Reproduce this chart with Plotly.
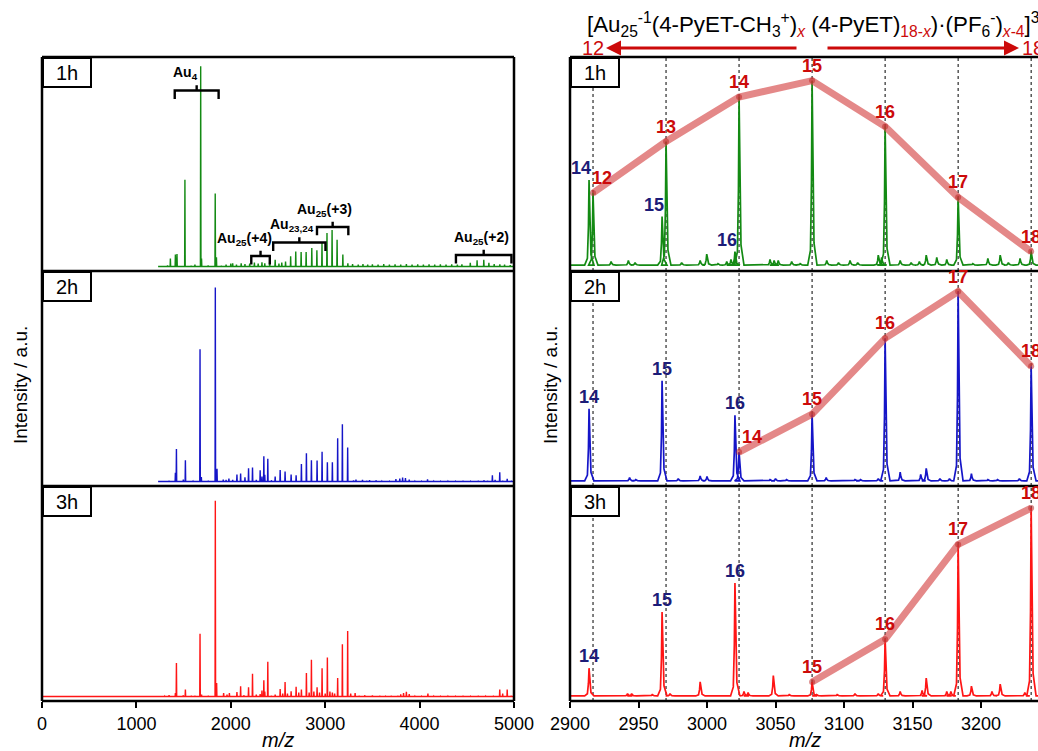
import plotly.graph_objects as go

W, H = 1038, 751

# ---------------- data ----------------
panels = ["1h", "2h", "3h"]

# Overview spectra (m/z, relative intensity in % of panel height)
ov1_mz = [1270, 1330, 1360, 1413, 1430, 1514, 1580, 1620, 1681, 1690, 1760, 1835, 1848, 1900, 1950, 2000, 2020,
          2060, 2110, 2150, 2200, 2250, 2290, 2330, 2360, 2412, 2470, 2510, 2540, 2580, 2634, 2688, 2745, 2798,
          2858, 2912, 2966, 3019, 3073, 3126, 3187, 3240, 3290, 3350, 3400, 3450, 3500, 3560, 3620, 3680, 3740,
          3800, 3860, 3920, 3980, 4040, 4100, 4160, 4220, 4280, 4340, 4400, 4448, 4537, 4609, 4680, 4734, 4790,
          4850, 4900, 4960]
ov1_int = [0.8, 1.2, 4.4, 6.3, 6.6, 41.8, 1.0, 1.5, 95.6, 4.4, 1.2, 35.3, 5.0, 1.0, 1.5, 2.0, 2.2,
           1.5, 2.2, 1.8, 2.0, 2.5, 2.0, 2.6, 2.2, 3.0, 3.8, 2.0, 2.5, 3.0, 5.5, 7.8, 7.5, 7.5,
           9.4, 8.3, 11.8, 16.5, 18.0, 13.3, 6.3, 2.2, 1.8, 1.5, 1.8, 1.5, 1.6, 1.5, 1.8, 1.5, 1.7,
           1.5, 1.8, 1.5, 1.6, 1.5, 1.7, 1.5, 1.6, 1.5, 1.7, 1.5, 1.6, 2.4, 3.6, 3.8, 2.4, 1.8,
           1.6, 1.5, 1.3]

ov2_mz = [1265, 1346, 1413, 1424, 1497, 1519, 1600, 1674, 1688, 1760, 1836, 1854, 1920, 1950, 1980, 2020, 2065,
          2104, 2150, 2188, 2230, 2270, 2311, 2330, 2350, 2360, 2392, 2430, 2470, 2523, 2575, 2639, 2692, 2748,
          2801, 2854, 2914, 2967, 3023, 3076, 3132, 3182, 3238, 3300, 3326, 3395, 3440, 3470, 3540, 3600, 3680,
          3749, 3790, 3820, 3850, 3890, 3950, 4020, 4084, 4150, 4220, 4300, 4380, 4460, 4540, 4620, 4683, 4720,
          4771, 4800, 4849, 4880, 4928, 4970]
ov2_int = [0.6, 1.0, 4.7, 16.0, 1.5, 10.6, 0.8, 63.0, 2.7, 0.8, 92.2, 6.6, 1.5, 1.4, 2.0, 1.4, 3.9,
           4.4, 2.6, 6.9, 7.2, 1.4, 5.9, 3.0, 12.5, 3.8, 11.4, 1.2, 3.0, 6.1, 5.3, 3.9, 3.6, 8.9,
           14.0, 10.6, 10.5, 14.7, 9.7, 9.7, 21.0, 27.7, 16.7, 1.2, 1.5, 1.4, 1.0, 1.3, 1.2, 0.8, 0.8,
           1.8, 2.0, 2.5, 2.3, 1.5, 0.8, 0.8, 1.6, 0.8, 0.8, 0.8, 0.8, 0.8, 0.8, 0.8, 1.2, 1.0,
           3.6, 1.4, 5.0, 1.0, 1.9, 0.8]

ov3_mz = [0, 1300, 1346, 1413, 1424, 1497, 1519, 1580, 1620, 1674, 1690, 1760, 1836, 1850, 1924, 1960, 1985,
          2065, 2104, 2140, 2188, 2230, 2270, 2311, 2330, 2350, 2360, 2392, 2430, 2470, 2523, 2550, 2575, 2600,
          2639, 2692, 2720, 2748, 2801, 2830, 2854, 2880, 2914, 2940, 2967, 3000, 3023, 3050, 3076, 3100, 3132,
          3182, 3238, 3270, 3317, 3360, 3420, 3500, 3580, 3640, 3700, 3770, 3800, 3830, 3860, 3890, 3950, 4020,
          4088, 4150, 4220, 4300, 4380, 4460, 4540, 4620, 4700, 4780, 4849, 4880, 4928, 4970]
ov3_int = [0.3, 0.8, 1.3, 2.3, 16.4, 1.2, 3.9, 0.8, 1.0, 30.2, 1.5, 0.8, 93.0, 7.0, 2.3, 1.5, 2.3,
           2.7, 5.5, 1.2, 5.0, 11.4, 1.5, 1.8, 3.5, 8.3, 3.0, 17.0, 1.0, 1.5, 4.2, 2.0, 7.5, 2.0,
           3.1, 5.2, 2.5, 3.9, 11.7, 2.5, 18.0, 3.0, 5.0, 2.5, 14.0, 2.0, 19.0, 3.0, 2.5, 2.0, 9.4,
           25.3, 31.6, 2.0, 2.3, 1.0, 1.2, 1.2, 0.8, 0.8, 1.0, 1.0, 1.6, 2.3, 2.8, 1.8, 0.8, 0.8,
           2.0, 0.8, 0.8, 0.8, 0.8, 0.8, 0.8, 0.8, 0.8, 0.8, 3.9, 2.0, 3.9, 1.0]

# Zoomed region (3+ charge state): series x = number of methylated ligands (red)
red_x = [12, 13, 14, 15, 16, 17, 18]
red_mz = [2916.8, 2970.1, 3023.4, 3076.7, 3130.0, 3183.3, 3236.6]
red_1h = [35.5, 59.9, 81.0, 88.8, 67.0, 33.5, 7.7]
red_2h = [None, None, 14.5, 32.4, 68.2, 90.3, 55.0]
red_3h = [None, None, None, 7.5, 27.6, 72.4, 89.6]

# second series (blue labels)
blue_x = [14, 15, 16]
blue_mz = [2913.9, 2967.2, 3020.4]
blue_1h = [41.7, 24.3, 7.7]
blue_2h = [35.0, 48.2, 31.9]
blue_3h = [14.0, 40.5, 54.2]

# minor peaks in the zoomed region
minor1_mz = [2930, 2942.6, 2947.5, 2958, 2981.5, 2995, 2999.8, 3008, 3014.4, 3017.5, 3046, 3049, 3052, 3061.8,
             3068, 3087.4, 3096, 3104.4, 3110, 3125, 3127.5, 3141, 3149, 3155, 3160, 3167.7, 3175, 3194, 3205,
             3214, 3220, 3228.5]
minor1_int = [3, 3.5, 2.5, 1.5, 2.5, 3.5, 6.5, 2, 3, 4, 4, 3.5, 3.5, 3, 2, 3.5, 2.5, 3.5, 2.5, 6, 5, 3.5,
              2.5, 3, 6, 5, 4, 2, 4.5, 6, 2.5, 4.5]
minor2_mz = [2920, 2943.5, 2948, 2979, 2995, 3000, 3012, 3046, 3050, 3058, 3087, 3095, 3108, 3112, 3125, 3141,
             3156, 3160, 3170, 3177, 3193, 3205, 3212, 3228]
minor2_int = [1.2, 2.5, 1.5, 2, 3.2, 3, 1, 1.5, 2, 1.5, 2.5, 1.2, 1.5, 1.5, 2, 5, 4, 6.8, 2, 2, 4.3, 1.5,
              1.5, 2]
minor3_mz = [2930, 2942, 2945, 2955, 2960, 2973, 2995, 3027, 3030, 3048.4, 3060, 3080, 3095, 3108, 3125, 3141,
             3157, 3160, 3175, 3178, 3193, 3208, 3214, 3232]
minor3_int = [1.2, 2, 2, 1.2, 1.5, 2, 7.5, 3, 2.5, 10.5, 1.5, 1.5, 1.5, 2, 2, 3, 3.5, 9.3, 3, 3, 5.5, 3,
              6.5, 2.5]

left_ticks = [0, 1000, 2000, 3000, 4000, 5000]
right_ticks = [2900, 2950, 3000, 3050, 3100, 3150, 3200]

# bracket annotations on the 1h overview: (label, m/z start, m/z end, level %)
brackets = [("Au<sub>4</sub>", 1406, 1871, 84.1),
            ("Au<sub>25</sub>(+4)", 2217, 2413, 5.6),
            ("Au<sub>23,24</sub>", 2449, 3003, 12.0),
            ("Au<sub>25</sub>(+3)", 2913, 3245, 19.4),
            ("Au<sub>25</sub>(+2)", 4385, 4973, 6.1)]
bracket_label_x = [1522, 2146, 2643, 2992, 4651]

# ---------------- style ----------------
colors = ["#138a13", "#1515c8", "#ff1515"]
RED_TXT = "#cc0a0a"
BLUE_TXT = "#1c1c78"
FONT = "Liberation Sans, Arial, sans-serif"

def px(x):
    return x / W

def py(y):
    return 1 - y / H

LX0, LX1 = 42, 514
RX0 = 570
YS = [57, 271, 486, 701]
Y_RANGE = [-1.5, 100]

fig = go.Figure()

def stick_trace(mz, inten, color, ax, base=0.6, start=None):
    xs, ys = [], []
    pairs = sorted(zip(mz, inten))
    if start is not None:
        xs.append(start); ys.append(base)
    for m, h in pairs:
        xs += [m - 3, m, m + 3]
        ys += [base, h, base]
    xs.append(5000); ys.append(base)
    return go.Scatter(x=xs, y=ys, mode="lines", line=dict(color=color, width=1.4),
                      xaxis="x" + ax, yaxis="y" + ax, hoverinfo="skip", showlegend=False)

def profile_trace(mz, inten, color, ax, base):
    offs = [-3.2, -1.2, -0.45, 0, 0.5, 1.4, 3.6]
    rel = [0, 0.08, 0.45, 1, 0.5, 0.12, 0]
    xs, ys = [2900], [base]
    for m, h in sorted(zip(mz, inten)):
        for o, r in zip(offs, rel):
            xs.append(m + o)
            ys.append(base + r * (h - base))
    xs.append(3245); ys.append(base)
    return go.Scatter(x=xs, y=ys, mode="lines", line=dict(color=color, width=1.7),
                      xaxis="x" + ax, yaxis="y" + ax, hoverinfo="skip", showlegend=False)

# left overview
fig.add_trace(stick_trace(ov1_mz, ov1_int, colors[0], "", start=1230))
fig.add_trace(stick_trace(ov2_mz, ov2_int, colors[1], "2", start=1230))
fig.add_trace(stick_trace(ov3_mz, ov3_int, colors[2], "3", start=0))

# right zoom spectra
reds = [red_1h, red_2h, red_3h]
blues = [blue_1h, blue_2h, blue_3h]
minors = [(minor1_mz, minor1_int), (minor2_mz, minor2_int), (minor3_mz, minor3_int)]
bases = [1.3, 0.9, 0.9]
for i in range(3):
    ax = str(i + 4)
    mz, it = [], []
    for m, h in zip(red_mz, reds[i]):
        if h is not None:
            mz.append(m); it.append(h)
    mz += blue_mz; it += blues[i]
    mz += minors[i][0]; it += minors[i][1]
    fig.add_trace(profile_trace(mz, it, colors[i], ax, bases[i]))

# red connecting lines
for i in range(3):
    ax = str(i + 4)
    xs = [m for m, h in zip(red_mz, reds[i]) if h is not None]
    ys = [h for h in reds[i] if h is not None]
    fig.add_trace(go.Scatter(x=xs, y=ys, mode="lines+markers",
                             line=dict(color="rgba(214,72,72,0.65)", width=7),
                             marker=dict(size=6, color="rgba(190,40,40,0.55)"),
                             xaxis="x" + ax, yaxis="y" + ax, hoverinfo="skip", showlegend=False))

# brackets
for (lab, a, b, lev), lx in zip(brackets, bracket_label_x):
    mid = (a + b) / 2
    fig.add_trace(go.Scatter(x=[a, a, mid, mid, mid, b, b],
                             y=[lev - 4, lev, lev, lev + 2.5, lev, lev, lev - 4],
                             mode="lines", line=dict(color="black", width=2.4),
                             xaxis="x", yaxis="y", hoverinfo="skip", showlegend=False))

layout = dict(width=W, height=H, margin=dict(l=0, r=0, t=0, b=0, pad=0, autoexpand=False),
              autosize=False, plot_bgcolor="white", paper_bgcolor="white",
              font=dict(family=FONT, color="black"), showlegend=False)

for i in range(6):
    left = i < 3
    row = i % 3
    key = "" if i == 0 else str(i + 1)
    xd = [px(LX0), px(LX1)] if left else [px(RX0), 1.0]
    yd = [py(YS[row + 1]), py(YS[row])]
    xa = dict(domain=xd, anchor="y" + key, showgrid=False, zeroline=False, showline=False, automargin=False,
              range=[0, 5000] if left else [2900, 3241.6])
    if row == 2:
        xa.update(ticks="outside", ticklen=6, tickwidth=2, tickcolor="black",
                  tickvals=left_ticks if left else right_ticks,
                  tickfont=dict(size=18, family=FONT, color="black"), showticklabels=True)
    else:
        xa.update(ticks="", showticklabels=False)
    ya = dict(domain=yd, anchor="x" + key, range=Y_RANGE, showgrid=False, zeroline=False, automargin=False,
              showline=False, showticklabels=False, ticks="")
    layout["xaxis" + key] = xa
    layout["yaxis" + key] = ya

fig.update_layout(**layout)

shapes = []
BW = 2.5
for y in YS:
    shapes.append(dict(type="line", xref="paper", yref="paper", x0=px(LX0), x1=px(LX1), y0=py(y), y1=py(y),
                       line=dict(color="black", width=BW)))
    shapes.append(dict(type="line", xref="paper", yref="paper", x0=px(RX0), x1=1.0, y0=py(y), y1=py(y),
                       line=dict(color="black", width=BW)))
for x in [LX0, LX1, RX0]:
    shapes.append(dict(type="line", xref="paper", yref="paper", x0=px(x), x1=px(x), y0=py(YS[0]), y1=py(YS[3]),
                       line=dict(color="black", width=BW)))
for i in range(3):
    ax = str(i + 4)
    for m in red_mz:
        shapes.append(dict(type="line", xref="x" + ax, yref="y" + ax + " domain", x0=m, x1=m, y0=0, y1=1,
                           line=dict(color="black", width=1, dash="dot"), layer="below"))
fig.update_layout(shapes=shapes)

ann = []
for row, name in enumerate(panels):
    for x0 in [LX0, RX0]:
        ann.append(dict(text=name, xref="paper", yref="paper", x=px(x0), y=py(YS[row]), xanchor="left",
                        yanchor="top", showarrow=False, font=dict(size=20, family=FONT),
                        bgcolor="white", bordercolor="black", borderwidth=2, width=44, height=25))

for (lab, a, b, lev), lx in zip(brackets, bracket_label_x):
    ann.append(dict(text="<b>" + lab + "</b>", xref="x", yref="y", x=lx, y=lev + 2.5, xanchor="center",
                    yanchor="bottom", yshift=1, showarrow=False, font=dict(size=14, family=FONT)))

red_xshift = [[9, 0, 0, 0, 0, 0, 0], [0, 0, 13, 0, 0, 0, 0], [0, 0, 0, 0, 0, 0, 0]]
blue_xshift = [[-8, -8, -8], [0, 0, 0], [0, 0, 0]]
for i in range(3):
    ax = str(i + 4)
    for k, (m, h, n) in enumerate(zip(red_mz, reds[i], red_x)):
        if h is None:
            continue
        ann.append(dict(text="<b>%d</b>" % n, xref="x" + ax, yref="y" + ax, x=m, y=h, xanchor="center",
                        yanchor="bottom", yshift=3, xshift=red_xshift[i][k], showarrow=False,
                        font=dict(size=18, color=RED_TXT, family=FONT)))
    for k, (m, h, n) in enumerate(zip(blue_mz, blues[i], blue_x)):
        ann.append(dict(text="<b>%d</b>" % n, xref="x" + ax, yref="y" + ax, x=m, y=h, xanchor="center",
                        yanchor="bottom", yshift=0, xshift=blue_xshift[i][k], showarrow=False,
                        font=dict(size=18, color=BLUE_TXT, family=FONT)))

for xc in [(LX0 + LX1) / 2, (RX0 + 1040) / 2]:
    ann.append(dict(text="<i>m/z</i>", xref="paper", yref="paper", x=px(xc), y=py(740), xanchor="center",
                    yanchor="middle", showarrow=False, font=dict(size=20, family=FONT)))
for xc in [20, 550]:
    ann.append(dict(text="Intensity / a.u.", xref="paper", yref="paper", x=px(xc), y=py(385), xanchor="center",
                    yanchor="middle", textangle=-90, showarrow=False, font=dict(size=19, family=FONT)))

rs = "<span style='color:%s'>" % RED_TXT
formula = ("[Au<sub>25</sub><sup>-1</sup>(4-PyET-CH<sub>3</sub><sup>+</sup>)<sub>" + rs + "<i>x</i></span></sub>"
           " (4-PyET)<sub>" + rs + "18-<i>x</i></span></sub>)·(PF<sub>6</sub><sup>-</sup>)<sub>" + rs +
           "<i>x</i>-4</span></sub>]<sup>3+</sup>")
ann.append(dict(text=formula, xref="paper", yref="paper", x=px(585), y=py(25), xanchor="left",
                yanchor="middle", showarrow=False, font=dict(size=22.3, family=FONT)))
ann.append(dict(text="12", xref="paper", yref="paper", x=px(593), y=py(48), xanchor="center", yanchor="middle",
                showarrow=False, font=dict(size=20, color=RED_TXT, family=FONT)))
ann.append(dict(text="18", xref="paper", yref="paper", x=px(1020), y=py(48), xanchor="left", yanchor="middle",
                showarrow=False, font=dict(size=20, color=RED_TXT, family=FONT)))
ann.append(dict(text="", xref="paper", yref="paper", x=px(606), y=py(48), ax=192, ay=0, showarrow=True,
                arrowhead=2, arrowsize=1, arrowwidth=3, arrowcolor=RED_TXT))
ann.append(dict(text="", xref="paper", yref="paper", x=px(1019), y=py(48), ax=-193, ay=0, showarrow=True,
                arrowhead=2, arrowsize=1, arrowwidth=3, arrowcolor=RED_TXT))

fig.update_layout(annotations=ann)
fig.write_html("out.html")
